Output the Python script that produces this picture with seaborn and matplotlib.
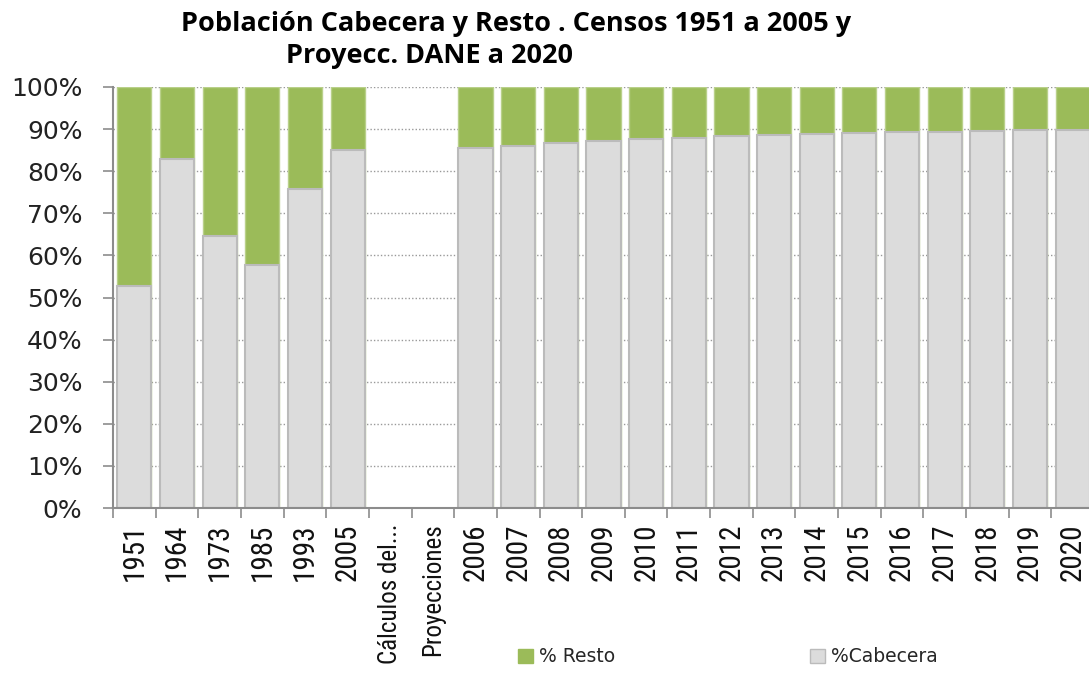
import matplotlib
matplotlib.use("Agg")
import matplotlib.pyplot as plt
import matplotlib.patches as mpatches
from matplotlib.ticker import PercentFormatter, FixedLocator
import pandas as pd
import seaborn as sns

# x categories (two text-only slots are empty gaps in the original chart)
CATEGORIES = ["1951", "1964", "1973", "1985", "1993", "2005",
              "Cálculos del...", "Proyecciones",
              "2006", "2007", "2008", "2009", "2010", "2011", "2012",
              "2013", "2014", "2015", "2016", "2017", "2018", "2019", "2020"]
YEARS = ["1951", "1964", "1973", "1985", "1993", "2005",
         "2006", "2007", "2008", "2009", "2010", "2011", "2012",
         "2013", "2014", "2015", "2016", "2017", "2018", "2019", "2020"]
CABECERA = [52.8, 82.9, 64.7, 57.7, 75.7, 85.0,
            85.6, 86.1, 86.6, 87.1, 87.6, 87.9, 88.3,
            88.5, 88.8, 89.1, 89.2, 89.4, 89.5, 89.7, 89.8]
RESTO = [round(100 - c, 1) for c in CABECERA]

GREEN = "#9BBB59"
GREEN_EDGE = "#B9D08A"
GRAY = "#DCDCDC"
GRAY_EDGE = "#BBBBBB"
AXIS_GRAY = "#8C8C8C"

sns.set_theme(style="white")
plt.rcParams["font.family"] = ["DejaVu Sans"]

df = pd.DataFrame({"periodo": YEARS, "cabecera": CABECERA, "resto": RESTO})
df["total"] = df["cabecera"] + df["resto"]

fig = plt.figure(figsize=(10.89, 6.75), dpi=100)
ax = fig.add_axes([113 / 1089, 167 / 675, 981 / 1089, 421 / 675])

sns.barplot(data=df, x="periodo", y="total", order=CATEGORIES, color=GREEN,
            saturation=1, width=0.8, edgecolor=GREEN_EDGE, linewidth=1, ax=ax)
sns.barplot(data=df, x="periodo", y="cabecera", order=CATEGORIES, color=GRAY,
            saturation=1, width=0.8, edgecolor=GRAY_EDGE, linewidth=1.5, ax=ax)

ax.set_xlim(-0.5, len(CATEGORIES) - 0.5)
ax.set_ylim(0, 100)
ax.set_yticks(range(0, 101, 10))
ax.yaxis.set_major_formatter(PercentFormatter(100, decimals=0))
ax.set_xlabel("")
ax.set_ylabel("")

ax.set_axisbelow(True)
ax.yaxis.grid(True, linestyle=(0, (1, 1.5)), color="#999999", linewidth=1)
ax.xaxis.grid(False)

for side in ["top", "right"]:
    ax.spines[side].set_visible(False)
for side in ["left", "bottom"]:
    ax.spines[side].set_color(AXIS_GRAY)
    ax.spines[side].set_linewidth(1.5)

ax.tick_params(axis="y", left=True, length=7, color=AXIS_GRAY, width=1.2,
               labelsize=18, labelcolor="#222222", pad=15)
ax.tick_params(axis="x", bottom=False, labelsize=21, labelrotation=90,
               labelcolor="#111111", pad=5)
ax.set_xticks(range(len(CATEGORIES)))
ax.set_xticklabels(CATEGORIES, family=["Roboto Condensed", "Roboto", "DejaVu Sans"])
# the two long text labels are shrunk a little so they stay inside the figure
for lbl in ax.get_xticklabels():
    if not lbl.get_text().isdigit():
        lbl.set_fontsize(18)
ax.xaxis.set_minor_locator(FixedLocator([i - 0.5 for i in range(len(CATEGORIES) + 1)]))
ax.tick_params(axis="x", which="minor", bottom=True, length=7, color=AXIS_GRAY, width=1.2)

fig.text(516 / 1089, 1 - 24 / 675, "Población Cabecera y Resto . Censos 1951 a 2005 y",
         ha="center", va="center", fontsize=19.5, fontweight="bold", color="black",
         family=["Open Sans", "DejaVu Sans"])
fig.text(430 / 1089, 1 - 56 / 675, "Proyecc. DANE a 2020",
         ha="center", va="center", fontsize=19.5, fontweight="bold", color="black",
         family=["Open Sans", "DejaVu Sans"])

handles = [mpatches.Patch(facecolor=GREEN, edgecolor=GREEN, label="% Resto"),
           mpatches.Patch(facecolor=GRAY, edgecolor=GRAY_EDGE, label="%Cabecera")]
fig.legend(handles=handles, loc="center", bbox_to_anchor=(728 / 1089, 18 / 675),
           ncol=2, frameon=False, fontsize=13.5, handlelength=0.8, handleheight=0.8,
           handletextpad=0.3, columnspacing=10.4)

fig.savefig("out.png", dpi=100)
